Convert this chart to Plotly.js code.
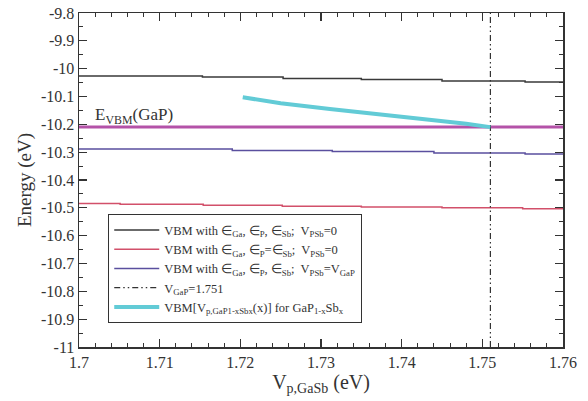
<!DOCTYPE html>
<html>
<head>
<meta charset="utf-8">
<script src="https://cdn.plot.ly/plotly-3.0.1.min.js"></script>
<style>html,body{margin:0;padding:0;background:#fff;}#chart{width:588px;height:401px;}</style>
</head>
<body>
<div id="chart"></div>
<script>
// Data
const blackX = [1.700, 1.7153, 1.7153, 1.7253, 1.7253, 1.7350, 1.7350, 1.7450, 1.7450, 1.7553, 1.7553, 1.760];
const blackY = [-10.026, -10.026, -10.030, -10.030, -10.035, -10.035, -10.039, -10.039, -10.044, -10.044, -10.048, -10.048];

const redX = [1.700, 1.7051, 1.7051, 1.7154, 1.7154, 1.7252, 1.7252, 1.7350, 1.7350, 1.7450, 1.7450, 1.7550, 1.7550, 1.760];
const redY = [-10.484, -10.484, -10.487, -10.487, -10.491, -10.491, -10.494, -10.494, -10.497, -10.497, -10.500, -10.500, -10.503, -10.503];

const purpleX = [1.700, 1.7190, 1.7190, 1.7314, 1.7314, 1.7440, 1.7440, 1.7553, 1.7553, 1.760];
const purpleY = [-10.289, -10.289, -10.294, -10.294, -10.298, -10.298, -10.303, -10.303, -10.307, -10.307];

const gapX = [1.700, 1.760];
const gapY = [-10.21, -10.21];

const vGaP = 1.751;
const vlineY = [-11, -9.8];

const cyanX = [1.7203, 1.7250, 1.7311, 1.7373, 1.7435, 1.7480, 1.7510];
const cyanY = [-10.103, -10.124, -10.145, -10.164, -10.182, -10.198, -10.210];

const xTicks = [1.70, 1.71, 1.72, 1.73, 1.74, 1.75, 1.76];
const xTickText = ['1.7', '1.71', '1.72', '1.73', '1.74', '1.75', '1.76'];
const yTicks = [-9.8, -9.9, -10, -10.1, -10.2, -10.3, -10.4, -10.5, -10.6, -10.7, -10.8, -10.9, -11];
const yTickText = ['-9.8', '-9.9', '-10', '-10.1', '-10.2', '-10.3', '-10.4', '-10.5', '-10.6', '-10.7', '-10.8', '-10.9', '-11'];

const names = [
  'VBM with ∈<sub>Ga</sub>, ∈<sub>P</sub>, ∈<sub>Sb</sub>;  V<sub>PSb</sub>=0',
  'VBM with ∈<sub>Ga</sub>, ∈<sub>P</sub>=∈<sub>Sb</sub>;  V<sub>PSb</sub>=0',
  'VBM with ∈<sub>Ga</sub>, ∈<sub>P</sub>, ∈<sub>Sb</sub>;  V<sub>PSb</sub>=V<sub>GaP</sub>',
  'V<sub>GaP</sub>=1.751',
  'VBM[V<sub>p,GaP</sub><sub>1-x</sub><sub>Sb</sub><sub>x</sub>(x)] for GaP<sub>1-x</sub>Sb<sub>x</sub>'
];

const serif = 'Liberation Serif';

const traces = [
  {x: gapX, y: gapY, mode: 'lines', line: {color: '#b452a8', width: 3}, showlegend: false, hoverinfo: 'skip'},
  {x: blackX, y: blackY, mode: 'lines', name: names[0], line: {color: '#3a3a3a', width: 1.5}},
  {x: redX, y: redY, mode: 'lines', name: names[1], line: {color: '#d2506a', width: 1.5}},
  {x: purpleX, y: purpleY, mode: 'lines', name: names[2], line: {color: '#5a4f9e', width: 1.5}},
  {x: [vGaP, vGaP], y: vlineY, mode: 'lines', name: names[3], line: {color: '#333', width: 1.2, dash: '6px,3px,1.5px,3px,1.5px,3px'}},
  {x: cyanX, y: cyanY, mode: 'lines', name: names[4], line: {color: '#62cbd6', width: 4}}
];

const axisCommon = {
  showline: true, linecolor: '#333', linewidth: 1.5, mirror: 'allticks',
  ticks: 'inside', ticklen: 8, tickwidth: 1.2, tickcolor: '#333',
  showgrid: false, zeroline: false,
  tickfont: {family: serif, size: 16, color: '#333'}
};

const layout = {
  width: 588, height: 401,
  margin: {l: 79, r: 25, t: 13, b: 54},
  paper_bgcolor: '#fff', plot_bgcolor: '#fff',
  font: {family: serif, color: '#333'},
  xaxis: Object.assign({}, axisCommon, {
    range: [1.7, 1.76], tickvals: xTicks, ticktext: xTickText,
    minor: {dtick: 0.002, ticks: 'inside', ticklen: 4, tickcolor: '#333', tickwidth: 1},
    title: {text: 'V<sub>p,GaSb</sub> (eV)', font: {family: serif, size: 20, color: '#333'}, standoff: 2}
  }),
  yaxis: Object.assign({}, axisCommon, {
    range: [-11, -9.8], tickvals: yTicks, ticktext: yTickText,
    minor: {dtick: 0.05, ticks: 'inside', ticklen: 4, tickcolor: '#333', tickwidth: 1},
    title: {text: 'Energy (eV)', font: {family: serif, size: 19, color: '#333'}, standoff: 4}
  }),
  legend: {
    x: 0.06, y: 0.398, xanchor: 'left', yanchor: 'top',
    bordercolor: '#333', borderwidth: 1.2, bgcolor: '#fff',
    font: {family: serif, size: 12.5, color: '#333'},
    tracegroupgap: 0, itemwidth: 45
  },
  annotations: [{
    x: 1.7017, y: -10.17, xref: 'x', yref: 'y', xanchor: 'left', yanchor: 'middle',
    text: 'E<sub>VBM</sub>(GaP)', showarrow: false,
    font: {family: serif, size: 17, color: '#333'}
  }]
};

Plotly.newPlot('chart', traces, layout, {displayModeBar: false, staticPlot: true});
</script>
</body>
</html>
